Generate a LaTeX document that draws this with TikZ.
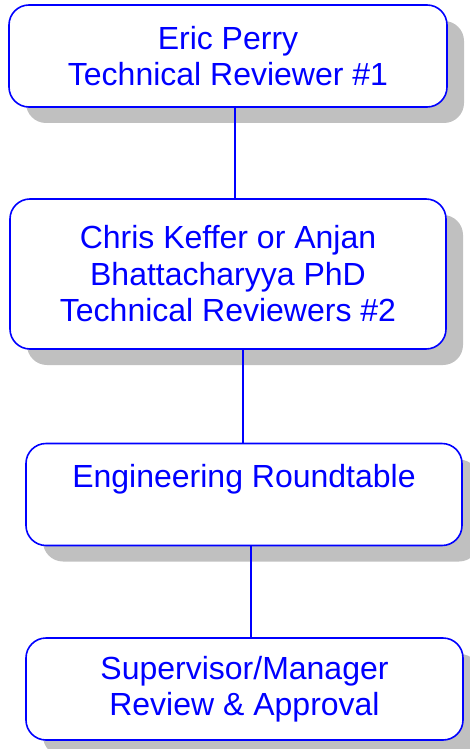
\documentclass[tikz,border=0pt]{standalone}
\usepackage{fontspec}
\setmainfont{Liberation Sans}
\usetikzlibrary{shadows}
\definecolor{boxblue}{RGB}{0,0,255}
\definecolor{shadowgray}{RGB}{192,192,192}
\tikzset{
  box/.style={draw=boxblue, line width=1.6pt, fill=white, rounded corners=20pt,
    inner sep=0pt, align=center, text=boxblue,
    font=\fontsize{32}{36.5}\selectfont,
    drop shadow={shadow xshift=17pt, shadow yshift=-16pt, fill=shadowgray, opacity=1}},
  link/.style={draw=boxblue, line width=1.3pt}
}
\begin{document}
\begin{tikzpicture}[x=1pt,y=-1pt]
\useasboundingbox (0,0) rectangle (469,749);
\node[box, minimum width=438pt, minimum height=102pt] (b1) at (228,56) {Eric Perry\\Technical Reviewer \#1};
\node[box, minimum width=436pt, minimum height=150pt] (b2) at (228,274) {Chris Keffer or Anjan\\Bhattacharyya PhD\\Technical Reviewers \#2};
\node[box, minimum width=436pt, minimum height=102pt] (b3) at (244,494.5) {Engineering Roundtable\\~};
\node[box, minimum width=437pt, minimum height=102pt] (b4) at (244.5,689) {Supervisor/Manager\\Review \& Approval};
\draw[link] (b1.south -| 235,0) -- (b2.north -| 235,0);
\draw[link] (b2.south -| 243,0) -- (b3.north -| 243,0);
\draw[link] (b3.south -| 251,0) -- (b4.north -| 251,0);
\end{tikzpicture}
\end{document}
